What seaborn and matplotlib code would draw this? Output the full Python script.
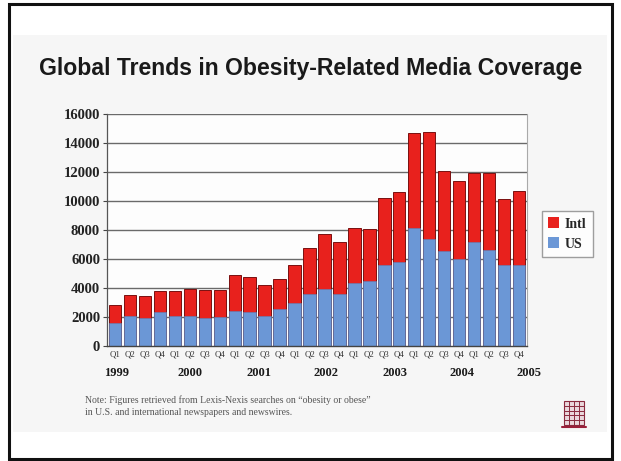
import matplotlib
matplotlib.use("Agg")
import matplotlib.pyplot as plt
import seaborn as sns
import pandas as pd
from matplotlib.patches import Rectangle
from matplotlib.lines import Line2D

# ---- data ----
years = ["1999", "2000", "2001", "2002", "2003", "2004", "2005"]
quarters = ["Q1", "Q2", "Q3", "Q4"]
periods = [f"{y} {q}" for y in years for q in quarters]
us = [1590, 2050, 1960, 2350, 2050, 2050, 1960, 2000,
      2400, 2350, 2050, 2580, 2970, 3620, 3960, 3620,
      4350, 4470, 5580, 5760, 8160, 7370, 6540, 5990,
      7140, 6610, 5620, 5580]
total = [2810, 3550, 3460, 3780, 3800, 3920, 3850, 3890,
         4930, 4770, 4240, 4610, 5580, 6770, 7700, 7190,
         8110, 8060, 10180, 10650, 14680, 14790, 12070, 11380,
         11960, 11960, 10120, 10690]
intl = [t - u for t, u in zip(total, us)]
quarter_labels = [q for y in years for q in quarters]
year_label_pos = [0.1, 5.0, 9.6, 14.1, 18.7, 23.2, 27.7]
yticks = list(range(0, 16001, 2000))

df = pd.DataFrame({"period": periods, "US": us, "Intl": intl, "total": total})

RED = "#e8211d"
BLUE = "#6b97d6"

sns.set_theme(style="white")
plt.rcParams["font.family"] = ["Liberation Sans", "DejaVu Sans"]

W, H = 621, 461
fig = plt.figure(figsize=(W / 100, H / 100), dpi=100)
fig.patch.set_facecolor("white")

# slide background and frame
fig.add_artist(Rectangle((13 / W, 1 - 432 / H), (607 - 13) / W, (432 - 35) / H,
                         transform=fig.transFigure, facecolor="#f6f6f6",
                         edgecolor="none", zorder=0))
fig.add_artist(Rectangle((9 / W, 1 - 459 / H), (612 - 9) / W, (459 - 4) / H,
                         transform=fig.transFigure, facecolor="none",
                         edgecolor="#111111", linewidth=2.2, zorder=5))

fig.text(311 / W, 1 - 68 / H, "Global Trends in Obesity-Related Media Coverage",
         ha="center", va="center", fontsize=16.6, fontweight="bold", color="#1a1a1a")

ax = fig.add_axes([107 / W, 1 - 346 / H, (527 - 107) / W, (346 - 114) / H])
ax.set_facecolor("#fdfdfd")

sns.barplot(data=df, x="period", y="total", order=periods, color=RED,
            width=0.84, edgecolor="#7a1010", linewidth=0.7, saturation=1,
            ax=ax)
n_red = len(ax.patches)
sns.barplot(data=df, x="period", y="US", order=periods, color=BLUE,
            width=0.84, edgecolor="#5a7fb8", linewidth=0.4, saturation=1,
            ax=ax)
for i, p in enumerate(ax.patches):
    p.set_zorder(3 if i < n_red else 4)

ax.set_xlim(-0.55, len(periods) - 0.45)
ax.set_ylim(0, 16000)
ax.grid(False)
for v in yticks[1:]:
    ax.axhline(v, color="#6a6a6a", linewidth=1.0, zorder=1)
ax.set_yticks(yticks)
ax.set_yticklabels([str(v) for v in yticks], fontfamily="Liberation Serif",
                   fontweight="bold", fontsize=10.5, color="#222222")
ax.tick_params(axis="y", length=3, width=0.8, color="#444444", pad=2, left=True)
ax.set_xticks(range(len(periods)))
ax.set_xticklabels(quarter_labels, fontfamily="Liberation Serif", fontsize=6.3,
                   color="#333333")
ax.tick_params(axis="x", length=0, pad=3)
ax.set_xlabel("")
ax.set_ylabel("")

ax.spines["top"].set_visible(False)
ax.spines["right"].set_color("#aaaaaa")
ax.spines["right"].set_linewidth(0.8)
ax.spines["left"].set_color("#555555")
ax.spines["left"].set_linewidth(0.9)
ax.spines["bottom"].set_color("#444444")
ax.spines["bottom"].set_linewidth(1.0)
ax.spines["bottom"].set_zorder(5)

# year labels
for yr, pos in zip(years, year_label_pos):
    ax.text(pos, -0.115, yr, transform=ax.get_xaxis_transform(), ha="center",
            va="center", fontsize=9, fontweight="bold",
            fontfamily="Liberation Serif", color="#1a1a1a")

# legend
handles = [Rectangle((0, 0), 1, 1, facecolor=RED, edgecolor="none"),
           Rectangle((0, 0), 1, 1, facecolor=BLUE, edgecolor="none")]
leg = fig.legend(handles, ["Intl", "US"], loc="center left",
                 bbox_to_anchor=(535 / W, 1 - 234 / H),
                 prop={"family": "Liberation Serif", "weight": "bold", "size": 10},
                 frameon=True, fancybox=False, handlelength=0.8, handleheight=0.8,
                 handletextpad=0.4, borderpad=0.45, labelspacing=0.5)
leg.get_frame().set_edgecolor("#888888")
leg.get_frame().set_linewidth(1.0)
leg.get_frame().set_facecolor("white")

# note
fig.text(85 / W, 1 - 400 / H,
         "Note: Figures retrieved from Lexis-Nexis searches on \u201cobesity or obese\u201d",
         fontfamily="Liberation Serif", fontsize=7.0, color="#555555", va="center")
fig.text(85 / W, 1 - 412 / H,
         "in U.S. and international newspapers and newswires.",
         fontfamily="Liberation Serif", fontsize=7.0, color="#555555", va="center")

# small logo
lx0, ly0, lw, lh = 564, 401, 20, 24
fig.add_artist(Rectangle((lx0 / W, 1 - (ly0 + lh) / H), lw / W, lh / H,
                         transform=fig.transFigure, facecolor="#ead7dc",
                         edgecolor="#8a2a3e", linewidth=0.8, zorder=4))
for k in range(1, 4):
    x = lx0 + k * lw / 4
    fig.add_artist(Line2D([x / W, x / W], [1 - (ly0 + lh) / H, 1 - ly0 / H],
                          transform=fig.transFigure, color="#8a2a3e", lw=0.7, zorder=4))
for k in range(1, 5):
    y = ly0 + k * lh / 5
    fig.add_artist(Line2D([lx0 / W, (lx0 + lw) / W], [1 - y / H, 1 - y / H],
                          transform=fig.transFigure, color="#8a2a3e", lw=0.7, zorder=4))
fig.add_artist(Line2D([(lx0 - 2) / W, (lx0 + lw + 2) / W],
                      [1 - (ly0 + lh + 2) / H, 1 - (ly0 + lh + 2) / H],
                      transform=fig.transFigure, color="#9a1f3a", lw=1.5, zorder=4))

fig.savefig("out.png", dpi=100)
